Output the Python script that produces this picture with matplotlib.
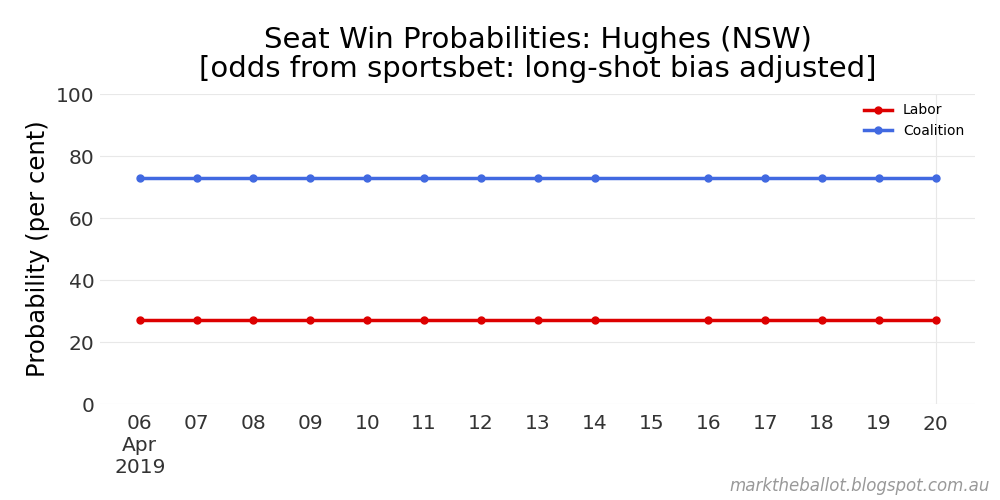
import matplotlib
matplotlib.use("Agg")
import matplotlib.pyplot as plt
import matplotlib.dates as mdates
import pandas as pd

dates = ["2019-04-06", "2019-04-07", "2019-04-08", "2019-04-09", "2019-04-10",
         "2019-04-11", "2019-04-12", "2019-04-13", "2019-04-14",
         "2019-04-16", "2019-04-17", "2019-04-18", "2019-04-19", "2019-04-20"]
labor = [27.1] * 14
coalition = [72.9] * 14

x = pd.to_datetime(dates)

fig = plt.figure(figsize=(10, 5), dpi=100)
ax = fig.add_axes([0.1, 0.192, 0.875, 0.62])

ax.plot(x, labor, color="#dd0000", lw=2.5, marker="o", ms=5, label="Labor")
ax.plot(x, coalition, color="#4169e1", lw=2.5, marker="o", ms=5, label="Coalition")

ax.set_ylim(0, 100)
ax.set_yticks([0, 20, 40, 60, 80, 100])
start = pd.Timestamp("2019-04-06")
end = pd.Timestamp("2019-04-20")
ax.set_xlim(start - pd.Timedelta(hours=16.8), end + pd.Timedelta(hours=16.6))

minor_days = pd.date_range("2019-04-06", "2019-04-19", freq="D")
ax.set_xticks(mdates.date2num(minor_days), minor=True)
ax.set_xticklabels(["06\nApr\n2019"] + [d.strftime("%d") for d in minor_days[1:]], minor=True)
ax.set_xticks([mdates.date2num(end)])
ax.set_xticklabels(["20"])

for s in ax.spines.values():
    s.set_visible(False)
ax.tick_params(axis="both", which="both", length=0, labelsize=14.5, colors="#333333")
ax.tick_params(axis="x", which="minor", pad=7)
ax.tick_params(axis="x", which="major", pad=8)
ax.tick_params(axis="y", pad=4)
ax.grid(True, axis="y", color="#e8e8e8", lw=0.8)
ax.grid(True, axis="x", which="major", color="#e8e8e8", lw=0.8)
ax.set_axisbelow(True)

ax.set_ylabel("Probability (per cent)", fontsize=17.5, labelpad=4)
ax.set_title("Seat Win Probabilities: Hughes (NSW)\n[odds from sportsbet: long-shot bias adjusted]",
             fontsize=21, pad=12, linespacing=1.05)
leg = ax.legend(loc="upper right", fontsize=10, frameon=False,
                bbox_to_anchor=(1.002, 1.01))
fig.text(0.99, 0.01, "marktheballot.blogspot.com.au", ha="right", va="bottom",
         fontsize=12, style="italic", color="#999999")

fig.savefig("out.png", dpi=100)
